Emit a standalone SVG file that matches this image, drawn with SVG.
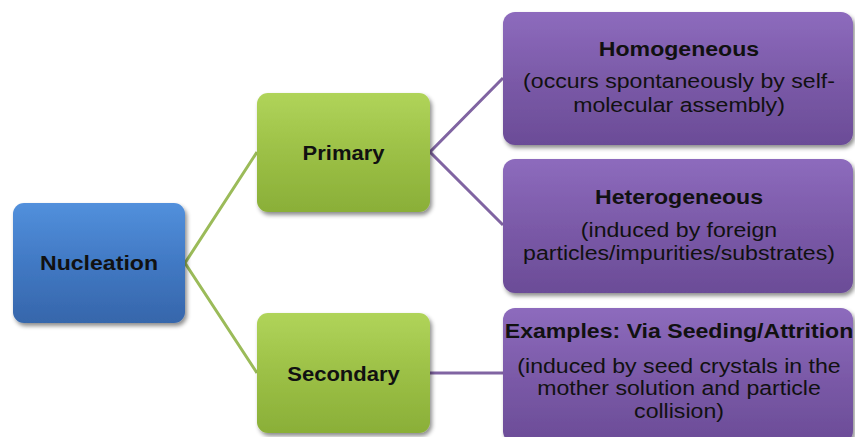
<svg xmlns="http://www.w3.org/2000/svg" width="855" height="437" viewBox="0 0 855 437">
<defs>
<linearGradient id="gBlue" x1="0" y1="0" x2="0" y2="1">
<stop offset="0" stop-color="#5290dc"/>
<stop offset="0.5" stop-color="#4179c4"/>
<stop offset="1" stop-color="#3666ab"/>
</linearGradient>
<linearGradient id="gGreen" x1="0" y1="0" x2="0" y2="1">
<stop offset="0" stop-color="#b0d45a"/>
<stop offset="0.5" stop-color="#9cc046"/>
<stop offset="1" stop-color="#8aaf38"/>
</linearGradient>
<linearGradient id="gPurple" x1="0" y1="0" x2="0" y2="1">
<stop offset="0" stop-color="#8d6bbd"/>
<stop offset="0.5" stop-color="#7b5aa8"/>
<stop offset="1" stop-color="#6b4c97"/>
</linearGradient>
<filter id="sh" x="-10%" y="-10%" width="125%" height="130%">
<feDropShadow dx="2" dy="3" stdDeviation="2.2" flood-color="#000" flood-opacity="0.45"/>
</filter>
</defs>
<style>
.box{filter:url(#sh)}
.t{font-family:"Liberation Sans",Arial,sans-serif;fill:#111;text-anchor:middle;font-size:21px}
.b{font-weight:bold}
.gl{stroke:#9bbb59;stroke-width:3;fill:none}
.pl{stroke:#8064a2;stroke-width:3;fill:none}
</style>
<rect width="855" height="437" fill="#fff"/>
<g id="connectors">
<polyline class="gl" points="257,152 185,263 257,373"/>
<polyline class="pl" points="503,78 430,152 503,225"/>
<line class="pl" x1="430" y1="373" x2="503" y2="373"/>
</g>
<g id="nucleation">
<rect class="box" x="13" y="203" width="172" height="120" rx="11" fill="url(#gBlue)"/>
<text class="t b" transform="translate(99 0) scale(1.1 1)" x="0" y="270">Nucleation</text>
</g>
<g id="primary">
<rect class="box" x="257" y="93" width="173" height="119" rx="11" fill="url(#gGreen)"/>
<text class="t b" transform="translate(343.5 0) scale(1.1 1)" x="0" y="160" style="font-size:20px">Primary</text>
</g>
<g id="secondary">
<rect class="box" x="257" y="313" width="173" height="120" rx="11" fill="url(#gGreen)"/>
<text class="t b" transform="translate(343.5 0) scale(1.1 1)" x="0" y="381" style="font-size:20px">Secondary</text>
</g>
<g id="homogeneous">
<rect class="box" x="503" y="12" width="350" height="133" rx="12" fill="url(#gPurple)"/>
<text class="t b" transform="translate(679 0) scale(1.1 1)" x="0" y="56">Homogeneous</text>
<text class="t" transform="translate(679 0) scale(1.1 1)" x="0" y="88">(occurs spontaneously by self-</text>
<text class="t" transform="translate(679 0) scale(1.1 1)" x="0" y="112">molecular assembly)</text>
</g>
<g id="heterogeneous">
<rect class="box" x="503" y="159" width="350" height="134" rx="12" fill="url(#gPurple)"/>
<text class="t b" transform="translate(679 0) scale(1.1 1)" x="0" y="204">Heterogeneous</text>
<text class="t" transform="translate(679 0) scale(1.1 1)" x="0" y="237">(induced by foreign</text>
<text class="t" transform="translate(679 0) scale(1.1 1)" x="0" y="260">particles/impurities/substrates)</text>
</g>
<g id="examples">
<rect class="box" x="503" y="308" width="350" height="135" rx="12" fill="url(#gPurple)"/>
<text class="t b" transform="translate(679 0) scale(1.1 1)" x="0" y="338">Examples: Via Seeding/Attrition</text>
<text class="t" transform="translate(679 0) scale(1.1 1)" x="0" y="373">(induced by seed crystals in the</text>
<text class="t" transform="translate(679 0) scale(1.1 1)" x="0" y="395">mother solution and particle</text>
<text class="t" transform="translate(679 0) scale(1.1 1)" x="0" y="418">collision)</text>
</g>
</svg>
